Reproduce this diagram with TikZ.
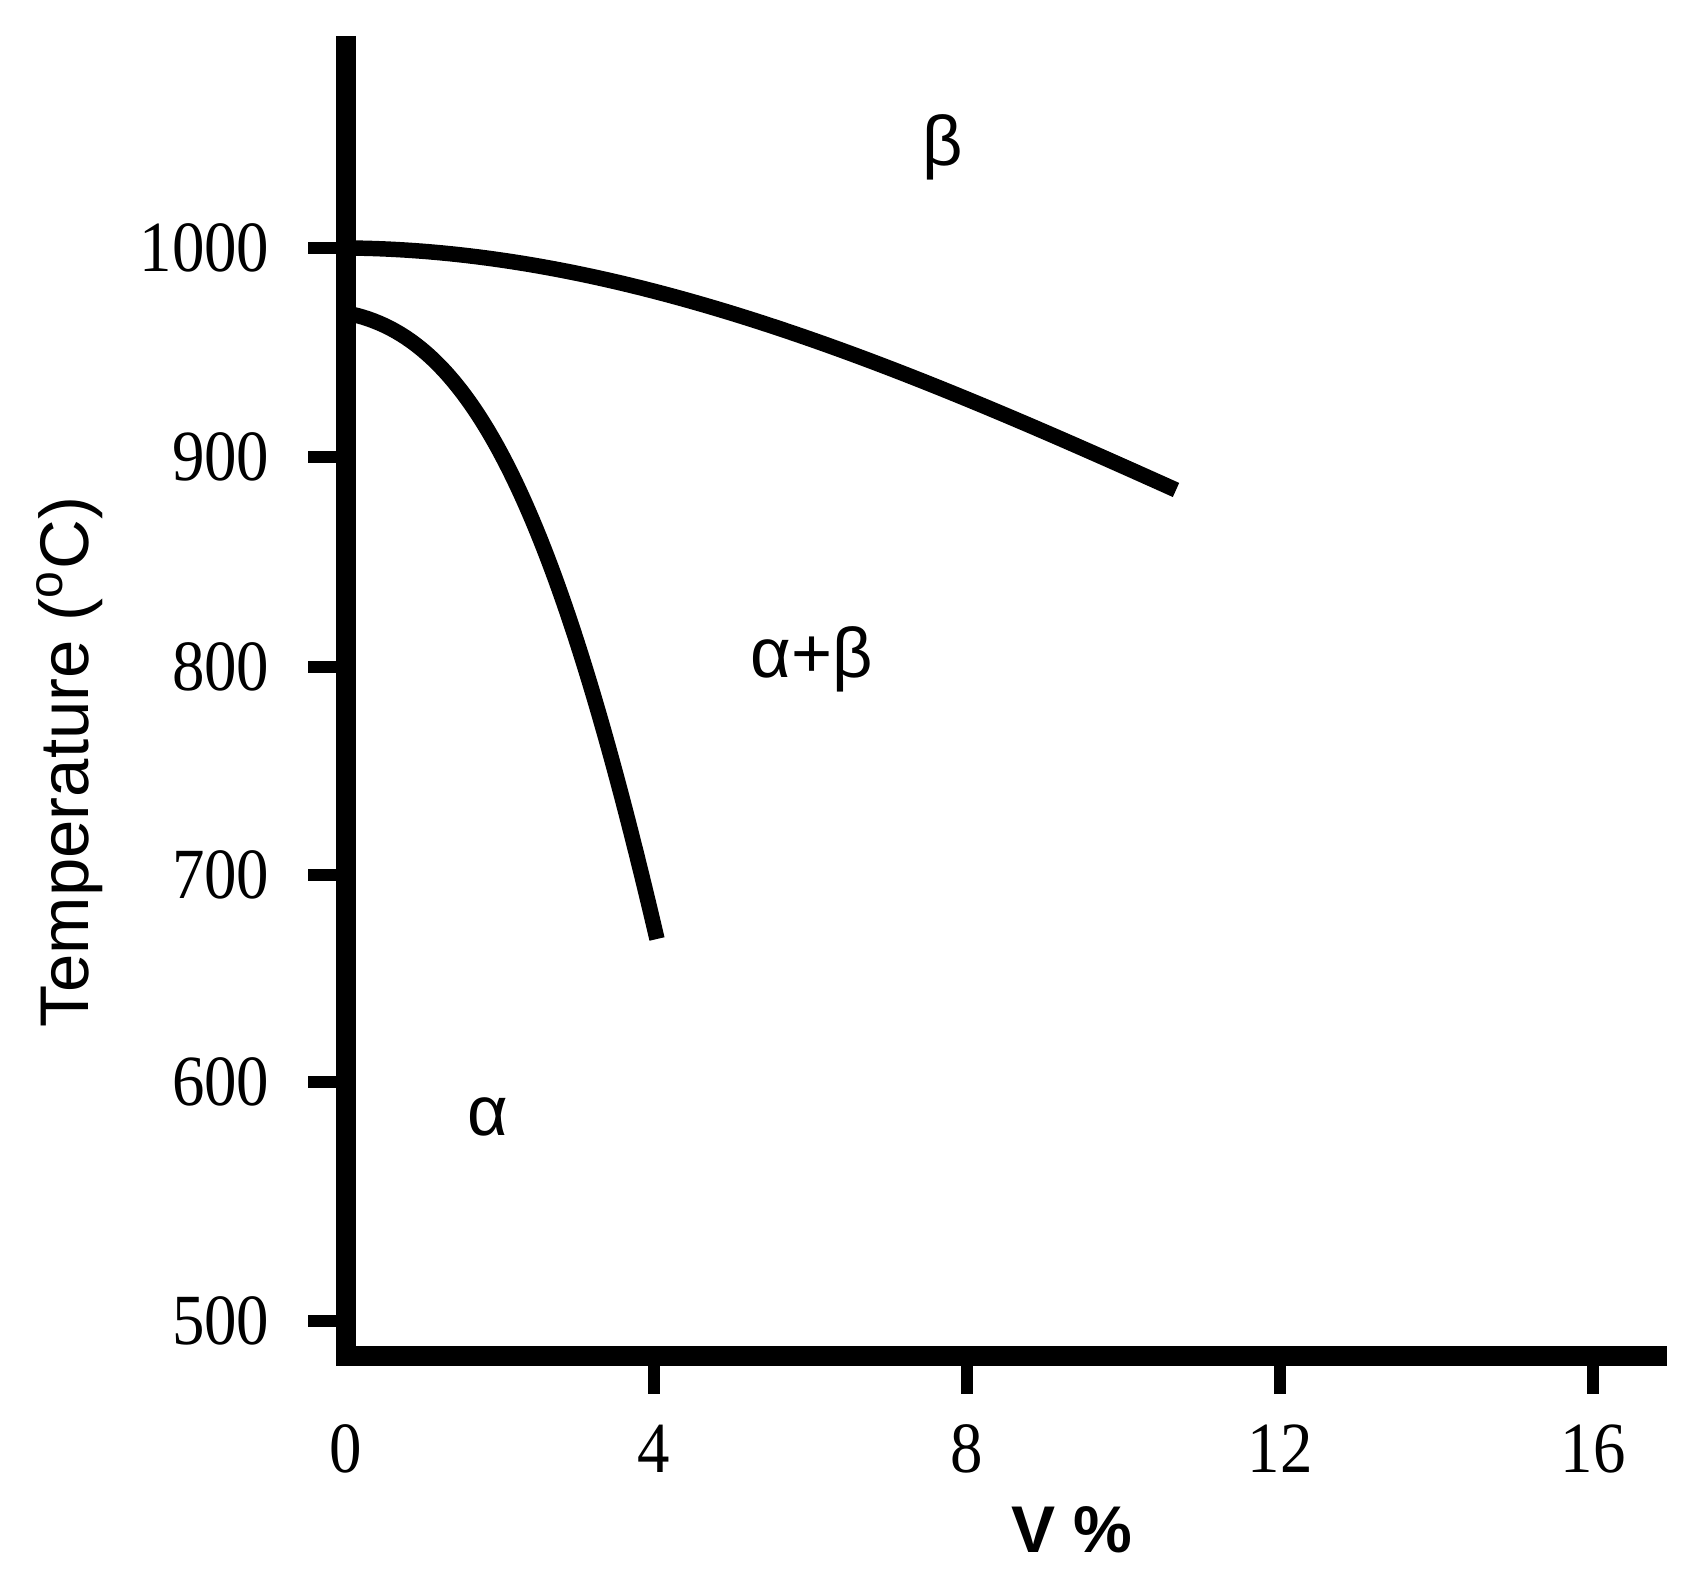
\documentclass[tikz,border=0pt]{standalone}
\usepackage{fontspec}
\setmainfont{Liberation Serif}
\setsansfont{Liberation Sans}
\newfontfamily\tickfont[FakeStretch=0.9]{Liberation Serif}
\usetikzlibrary{positioning}

\begin{document}
\begin{tikzpicture}[
    axis/.style={line width=5.8pt},
    tick/.style={line width=3.6pt},
    curve/.style={line width=4.4pt},
    ticklabel/.style={font=\tickfont\fontsize{20.5}{22}\selectfont, inner sep=0pt},
    phase/.style={font=\sffamily\fontsize{20}{22}\selectfont, inner sep=0pt},
    axislabel/.style={font=\sffamily\fontsize{19.6}{22}\selectfont, inner sep=0pt}
  ]
  \useasboundingbox (-3.46,-2.38) rectangle (13.62,13.56);

  % --- Axes ---
  \coordinate (origin) at (0,0);
  \coordinate (ytop) at (0,13.20);
  \coordinate (xend) at (13.21,0);
  \draw [axis] (ytop) -- (origin) -- (xend);

  % Temperature ticks (500 sits a bit low, as in the source)
  \foreach \t/\y in {1000/11.08, 900/8.99, 800/6.89, 700/4.81, 600/2.74, 500/0.35} {
    \coordinate (yt\t) at (0,\y);
    \draw [tick] (yt\t) -- ++(-0.38,0);
    \node (yl\t) [ticklabel, anchor=east] at (-0.76,\y) {\t};
  }

  % Composition ticks
  \node (xl0) [ticklabel] at (0,-0.93) {0};
  \foreach \v/\x in {4/3.08, 8/6.21, 12/9.34, 16/12.47} {
    \coordinate (xt\v) at (\x,0);
    \draw [tick] (xt\v) -- ++(0,-0.38);
    \node (xl\v) [ticklabel] at (\x,-0.93) {\v};
  }

  % Axis titles
  \node (xtitle) [axislabel, font=\sffamily\bfseries\fontsize{18.8}{22}\selectfont] at (7.26,-1.74) {V \%};
  \node (ytitle) [axislabel, rotate=90, anchor=base] at (-2.57,5.94) {Temperature (\textsuperscript{o}C)};

  % --- Phase boundaries ---
  \coordinate (transus0) at (0,11.08);
  \coordinate (transus1) at (8.30,8.66);
  \coordinate (solvus0) at (0,10.43);
  \coordinate (solvus1) at (3.11,4.17);
  \draw [curve] (transus0) .. controls (2.8,11.06) and (5.5,9.92) .. (transus1);
  \draw [curve] (solvus0) .. controls (1.2,10.2) and (2.05,8.7) .. (solvus1);

  % Phase fields
  \node (beta) [phase] at (5.97,12.09) {β};
  \node (alphabeta) [phase] at (4.66,6.97) {α+β};
  \node (alpha) [phase] at (1.42,2.39) {α};

\end{tikzpicture}
\end{document}
